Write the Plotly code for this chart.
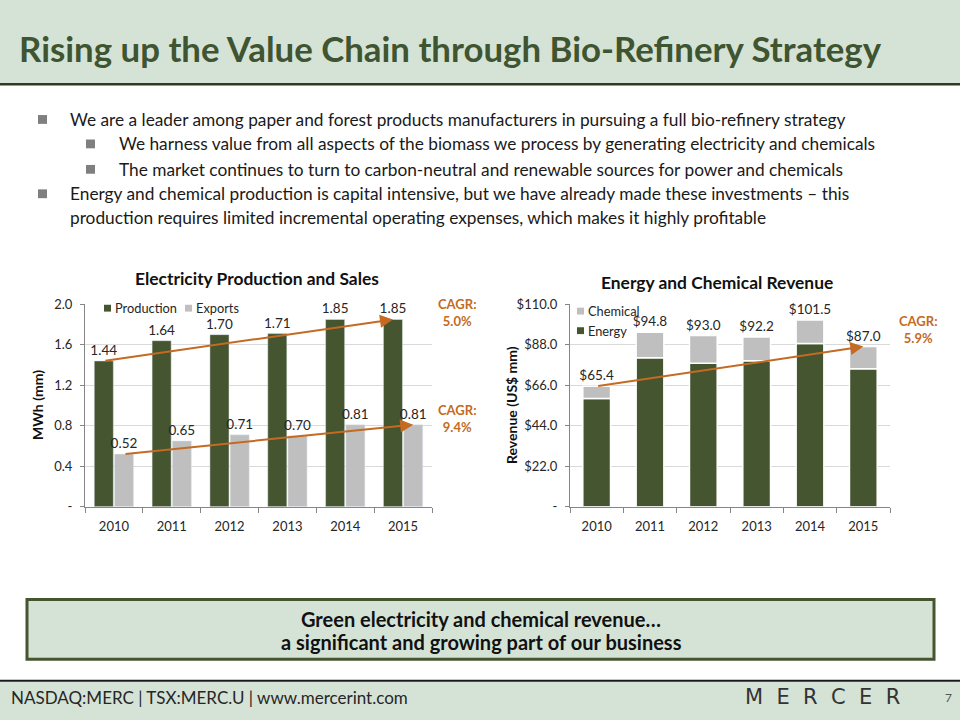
import plotly.graph_objects as go

# ---------------- data ----------------
years = ["2010", "2011", "2012", "2013", "2014", "2015"]
production = [1.44, 1.64, 1.70, 1.71, 1.85, 1.85]
exports = [0.52, 0.65, 0.71, 0.70, 0.81, 0.81]
revenue_total = [65.4, 94.8, 93.0, 92.2, 101.5, 87.0]
energy = [58.8, 80.9, 78.0, 79.3, 88.7, 74.9]
chemical = [round(t - e, 1) for t, e in zip(revenue_total, energy)]

elec_series = ["Production", "Exports"]
rev_series = ["Chemical", "Energy"]

elec_tickvals = [0, 0.4, 0.8, 1.2, 1.6, 2.0]
elec_ticktext = ["-", "0.4", "0.8", "1.2", "1.6", "2.0"]
rev_tickvals = [0, 22, 44, 66, 88, 110]
rev_ticktext = ["-", "$22.0", "$44.0", "$66.0", "$88.0", "$110.0"]

cagr_production = "5.0%"
cagr_exports = "9.4%"
cagr_revenue = "5.9%"

title = "Rising up the Value Chain through Bio-Refinery Strategy"
bullets = [
    (0, "We are a leader among paper and forest products manufacturers in pursuing a full bio-refinery strategy"),
    (1, "We harness value from all aspects of the biomass we process by generating electricity and chemicals"),
    (1, "The market continues to turn to carbon-neutral and renewable sources for power and chemicals"),
    (0, "Energy and chemical production is capital intensive, but we have already made these investments \u2013 this"),
    (None, "production requires limited incremental operating expenses, which makes it highly profitable"),
]
callout_lines = ["Green electricity and chemical revenue\u2026",
                 "a significant and growing part of our business"]
footer = "NASDAQ:MERC | TSX:MERC.U | www.mercerint.com"

# ---------------- style ----------------
W, H = 960, 720
GREEN = "#44552F"
GRAY = "#BFBFBF"
ORANGE = "#C46A22"
BAND = "#D5E3D6"
TXT = "#262626"
FONT = "Lato"
AX = "#868686"


def px(x):
    return x / W


def py(y):
    return 1 - y / H


prod_w, prod_off = 0.33, -0.34
exp_w, exp_off = 0.33, 0.01
prod_center = prod_off + prod_w / 2
exp_center = exp_off + exp_w / 2
LBL = dict(family=FONT, size=13.5, color=TXT)

fig = go.Figure()

# Left chart
fig.add_trace(go.Bar(
    x=years, y=production, name=elec_series[0], marker=dict(color=GREEN),
    width=prod_w, offset=prod_off, text=[f"{v:.2f}" for v in production],
    textposition="outside", textfont=LBL, constraintext="none",
    cliponaxis=False, xaxis="x", yaxis="y"))
fig.add_trace(go.Bar(
    x=years, y=exports, name=elec_series[1], marker=dict(color=GRAY),
    width=exp_w, offset=exp_off, text=[f"{v:.2f}" for v in exports],
    textposition="outside", textfont=LBL, constraintext="none",
    cliponaxis=False, xaxis="x", yaxis="y"))

# Right chart
fig.add_trace(go.Bar(
    x=years, y=energy, name=rev_series[1], marker=dict(color=GREEN, line=dict(color="white", width=1.5)),
    width=0.52, xaxis="x2", yaxis="y2"))
fig.add_trace(go.Bar(
    x=years, y=chemical, base=energy, name=rev_series[0],
    marker=dict(color=GRAY, line=dict(color="white", width=1.5)),
    width=0.52, text=[f"${v:.1f}" for v in revenue_total], textposition="outside",
    textfont=LBL, constraintext="none", cliponaxis=False,
    xaxis="x2", yaxis="y2"))

common_x = dict(type="category", showline=True, linecolor=AX, linewidth=1, ticks="outside",
                tickson="boundaries", ticklen=5, tickcolor=AX, showgrid=False,
                ticklabelstandoff=8,
                tickfont=dict(family=FONT, size=13, color=TXT), fixedrange=True)
common_y = dict(showgrid=True, gridcolor="#D9D9D9", gridwidth=1, showline=True, linecolor=AX,
                ticks="outside", ticklen=4, tickcolor=AX, zeroline=False, ticklabelstandoff=5,
                tickfont=dict(family=FONT, size=13, color=TXT), fixedrange=True)

shapes = [
    # header band
    dict(type="rect", xref="paper", yref="paper", x0=-0.01, x1=1.01, y0=py(78), y1=1.05,
         fillcolor=BAND, line=dict(width=0), layer="below"),
    dict(type="line", xref="paper", yref="paper", x0=0, x1=1, y0=py(78), y1=py(78),
         line=dict(color="#2E3A24", width=2.5)),
    # footer band
    dict(type="rect", xref="paper", yref="paper", x0=-0.01, x1=1.01, y0=-0.05, y1=py(689),
         fillcolor=BAND, line=dict(width=0), layer="below"),
    dict(type="line", xref="paper", yref="paper", x0=0, x1=1, y0=py(688), y1=py(688),
         line=dict(color="#1A1A1A", width=2)),
    # callout box
    dict(type="rect", xref="paper", yref="paper", x0=px(27), x1=px(934), y0=py(666), y1=py(605),
         fillcolor=BAND, line=dict(color=GREEN, width=3)),
]

annotations = [
    dict(text=f"<b>{title}</b>", x=px(17), y=py(41), xref="paper", yref="paper",
         xanchor="left", yanchor="middle", showarrow=False,
         font=dict(family=FONT, size=34.8, color="#3F5430")),
    dict(text=footer, x=px(9), y=py(705), xref="paper", yref="paper",
         xanchor="left", yanchor="middle", showarrow=False,
         font=dict(family=FONT, size=17, color="#262626")),
    dict(text="M  E  R  C  E  R", x=px(822), y=py(705), xref="paper", yref="paper",
         xanchor="center", yanchor="middle", showarrow=False,
         font=dict(family="DejaVu Sans", size=21, color="#333333")),
    dict(text="7", x=px(948), y=py(705), xref="paper", yref="paper",
         xanchor="center", yanchor="middle", showarrow=False,
         font=dict(family=FONT, size=12, color="#555555")),
    # chart titles
    dict(text="<b>Electricity Production and Sales</b>", x=px(257), y=py(277), xref="paper", yref="paper",
         xanchor="center", yanchor="middle", showarrow=False, font=dict(family=FONT, size=17.4, color="#111111")),
    dict(text="<b>Energy and Chemical Revenue</b>", x=px(717), y=py(281), xref="paper", yref="paper",
         xanchor="center", yanchor="middle", showarrow=False, font=dict(family=FONT, size=17.4, color="#111111")),
    # axis titles
    dict(text="<b>MWh (mm)</b>", x=px(38), y=py(406), xref="paper", yref="paper", textangle=-90,
         xanchor="center", yanchor="middle", showarrow=False, font=dict(family=FONT, size=14, color="#111111")),
    dict(text="<b>Revenue (US$ mm)</b>", x=px(512), y=py(406), xref="paper", yref="paper", textangle=-90,
         xanchor="center", yanchor="middle", showarrow=False, font=dict(family=FONT, size=14, color="#111111")),
    # CAGR labels
    dict(text=f"<b>CAGR:<br>{cagr_production}</b>", x=px(457), y=py(311), xref="paper", yref="paper",
         xanchor="center", yanchor="middle", showarrow=False, font=dict(family=FONT, size=13, color=ORANGE)),
    dict(text=f"<b>CAGR:<br>{cagr_exports}</b>", x=px(457), y=py(420), xref="paper", yref="paper",
         xanchor="center", yanchor="middle", showarrow=False, font=dict(family=FONT, size=13, color=ORANGE)),
    dict(text=f"<b>CAGR:<br>{cagr_revenue}</b>", x=px(918), y=py(329), xref="paper", yref="paper",
         xanchor="center", yanchor="middle", showarrow=False, font=dict(family=FONT, size=13, color=ORANGE)),
    # trend arrows (data coordinates)
    dict(x=len(years) - 1 + prod_center, y=production[-1], ax=prod_center, ay=production[0],
         xref="x", yref="y", axref="x", ayref="y", showarrow=True, text="",
         arrowhead=2, arrowsize=1.3, arrowwidth=2, arrowcolor=ORANGE, standoff=0),
    dict(x=len(years) - 1 + exp_center, y=exports[-1], ax=exp_center, ay=exports[0],
         xref="x", yref="y", axref="x", ayref="y", showarrow=True, text="",
         arrowhead=2, arrowsize=1.3, arrowwidth=2, arrowcolor=ORANGE, standoff=0),
    dict(x=len(years) - 1, y=revenue_total[-1], ax=0, ay=revenue_total[0],
         xref="x2", yref="y2", axref="x2", ayref="y2", showarrow=True, text="",
         arrowhead=2, arrowsize=1.3, arrowwidth=2, arrowcolor=ORANGE, standoff=0),
]

# compact legends (Excel style: small square + label)
legend_items = [
    (elec_series[0], GREEN, 104, 307),
    (elec_series[1], GRAY, 185, 307),
    (rev_series[0], GRAY, 577, 310),
    (rev_series[1], GREEN, 577, 330),
]
for name, col, lx, ly in legend_items:
    shapes.append(dict(type="rect", xref="paper", yref="paper", x0=px(lx), x1=px(lx + 7),
                       y0=py(ly + 3.5), y1=py(ly - 3.5), fillcolor=col, line=dict(width=0)))
    annotations.append(dict(text=name, x=px(lx + 9), y=py(ly), xref="paper", yref="paper",
                            xanchor="left", yanchor="middle", showarrow=False,
                            font=dict(family=FONT, size=12.8, color=TXT)))

# callout text
for txt, yy in zip(callout_lines, [625, 648]):
    annotations.append(dict(text=f"<b>{txt}</b>", x=px(481), y=py(yy), xref="paper", yref="paper",
                            xanchor="center", yanchor="middle", showarrow=False,
                            font=dict(family=FONT, size=20, color="#111111")))

# bullets
line_y = [114, 139, 165, 190, 214]
for (lvl, txt), yy in zip(bullets, line_y):
    tx = 68 if lvl in (0, None) else 117
    annotations.append(dict(text=txt, x=px(tx), y=py(yy), xref="paper", yref="paper",
                            xanchor="left", yanchor="middle", showarrow=False,
                            font=dict(family=FONT, size=17.3, color="#1A1A1A")))
    if lvl is not None:
        bx = 38 if lvl == 0 else 86
        shapes.append(dict(type="rect", xref="paper", yref="paper", x0=px(bx), x1=px(bx + 9),
                           y0=py(yy + 4.5), y1=py(yy - 4.5), fillcolor="#7F7F7F", line=dict(width=0)))

fig.update_layout(
    width=W, height=H, margin=dict(l=0, r=0, t=0, b=0),
    paper_bgcolor="white", plot_bgcolor="white", barmode="overlay",
    font=dict(family=FONT, color=TXT), showlegend=False,
    xaxis=dict(domain=[px(85), px(432)], anchor="y", **common_x),
    yaxis=dict(domain=[py(510), py(303)], anchor="x", range=[0, 2.0],
               tickvals=elec_tickvals, ticktext=elec_ticktext, **common_y),
    xaxis2=dict(domain=[px(570), px(890)], anchor="y2", **common_x),
    yaxis2=dict(domain=[py(510), py(303)], anchor="x2", range=[0, 110],
                tickvals=rev_tickvals, ticktext=rev_ticktext, **common_y),
    shapes=shapes, annotations=annotations,
)

fig.write_html("out.html")
